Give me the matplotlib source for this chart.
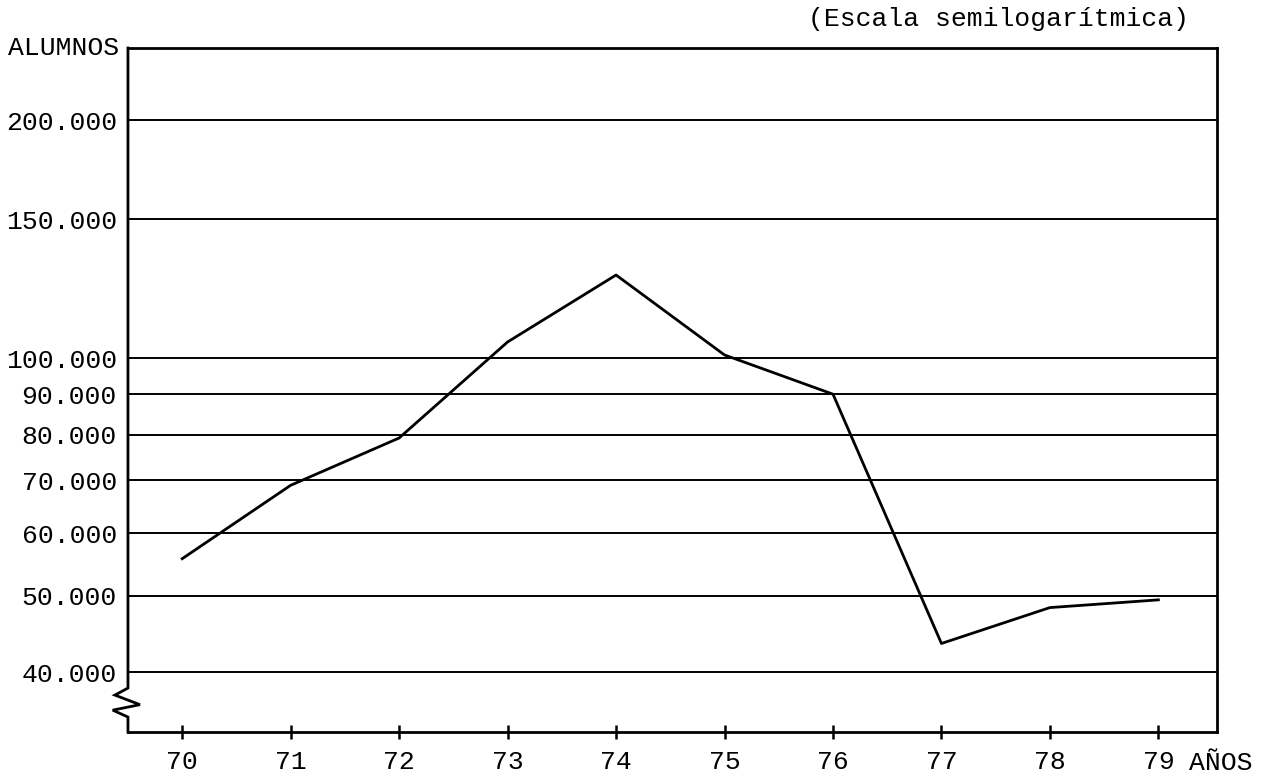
import matplotlib
matplotlib.use("Agg")
import matplotlib.pyplot as plt
from matplotlib.ticker import FixedLocator, NullLocator

# data (alumnos por año, escala semilog)
years = [70, 71, 72, 73, 74, 75, 76, 77, 78, 79]
alumnos = [55700, 69000, 79200, 104800, 127400, 100900, 90000, 43500, 48300, 49400]

grid_values = [40000, 50000, 60000, 70000, 80000, 90000, 100000, 150000, 200000]
grid_labels = ["40.000", "50.000", "60.000", "70.000", "80.000", "90.000",
               "100.000", "150.000", "200.000"]

font = "Liberation Mono"
fs = 19

fig = plt.figure(figsize=(12.62, 7.79), dpi=100)
ax = fig.add_axes([0.1014, 0.0603, 0.8629, 0.8781])

ax.set_yscale("log")
ax.set_xlim(69.5, 79.54)
ax.set_ylim(33600, 247000)

# horizontal rules
for v in grid_values:
    ax.axhline(v, color="black", lw=1.4, zorder=1)

ax.plot(years, alumnos, color="black", lw=2, zorder=3)

ax.yaxis.set_major_locator(FixedLocator(grid_values))
ax.yaxis.set_minor_locator(NullLocator())
ax.set_yticklabels(grid_labels, fontfamily=font, fontsize=fs)
ax.tick_params(axis="y", length=0, pad=8)

ax.set_xticks(years)
ax.set_xticklabels([str(y) for y in years], fontfamily=font, fontsize=fs)
ax.tick_params(axis="x", direction="inout", length=10, width=1.8, pad=8)

for side in ["top", "right", "bottom"]:
    ax.spines[side].set_linewidth(2)
ax.spines["left"].set_visible(False)

# left spine with the break zigzag near the bottom
zx = [0, 0, -0.012, 0.011, -0.014, 0, 0]
zy = [1, 0.0643, 0.054, 0.040, 0.032, 0.0219, 0]
ax.plot(zx, zy, color="black", lw=2, transform=ax.transAxes, clip_on=False,
        solid_joinstyle="miter", zorder=4)

fig.text(0.094, 0.938, "ALUMNOS", fontfamily=font, fontsize=fs,
         ha="right", va="center")
fig.text(0.942, 0.0205, "AÑOS", fontfamily=font, fontsize=fs,
         ha="left", va="center")
fig.text(0.640, 0.9756, "(Escala semilogarítmica)", fontfamily=font,
         fontsize=fs, ha="left", va="center")

fig.savefig("out.png", dpi=100)
